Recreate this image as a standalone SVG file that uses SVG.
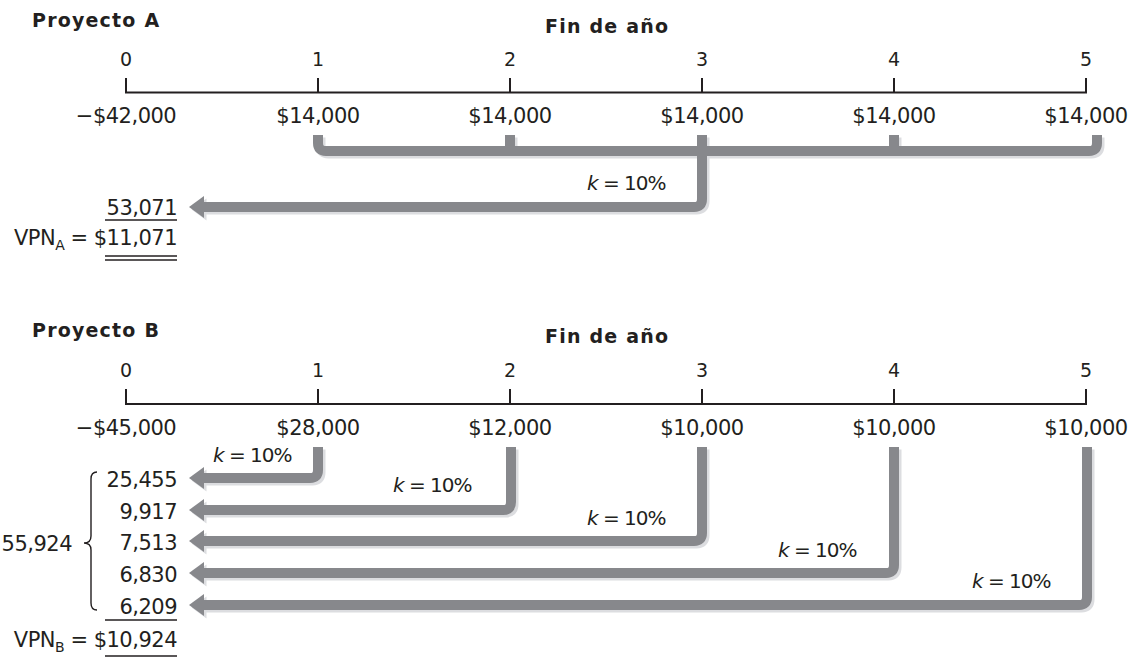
<svg xmlns="http://www.w3.org/2000/svg" width="1136" height="658" viewBox="0 0 1136 658">
<style>
text{font-family:"DejaVu Sans","Liberation Sans",sans-serif;fill:#231f20}
.title{font-weight:bold;font-size:19px;letter-spacing:1.2px}
.ax{font-size:19px;text-anchor:middle}
.cf{font-size:21px;text-anchor:middle;letter-spacing:-0.5px}
.val{font-size:21px;text-anchor:end;letter-spacing:-0.5px}
.k{font-size:20px;letter-spacing:-1px}
.axis{stroke:#231f20;stroke-width:2;fill:none}
.ul{stroke:#231f20;stroke-width:1.4;fill:none}
.brace{stroke:#231f20;stroke-width:1.4;fill:none}
.main{stroke:#87888c;fill:#87888c}
.shadow{stroke:#dcdde0;fill:#dcdde0}
</style>
<defs>
<polygon id="ah" points="0,0 15,-11 15,11" stroke="none"/>
<g id="connA" fill="none" stroke-width="10">
<path fill="none" d="M318,135 V143 Q318,151 326,151 H1089 Q1097,151 1097,143 V135"/>
<path fill="none" d="M510,135 V151"/>
<path fill="none" d="M894,135 V151"/>
<path fill="none" d="M702,135 V199 Q702,207 694,207 H202"/>
</g>
<g id="headA">
<use href="#ah" x="189" y="207"/>
</g>
<g id="connB" fill="none" stroke-width="10">
<path fill="none" d="M318,447 V470 Q318,478 310,478 H202"/>
<path fill="none" d="M511,447 V502 Q511,510 503,510 H202"/>
<path fill="none" d="M702,447 V533 Q702,541 694,541 H202"/>
<path fill="none" d="M894,447 V565 Q894,573 886,573 H202"/>
<path fill="none" d="M1087,447 V597 Q1087,605 1079,605 H202"/>
</g>
<g id="headB">
<use href="#ah" x="189" y="478"/>
<use href="#ah" x="189" y="510"/>
<use href="#ah" x="189" y="541"/>
<use href="#ah" x="189" y="573"/>
<use href="#ah" x="189" y="605"/>
</g>
</defs>

<g id="connectors">
<g class="shadow" transform="translate(2.5,2.5)">
<use href="#connA"/><use href="#headA"/>
<use href="#connB"/><use href="#headB"/>
</g>
<g class="main">
<use href="#connA"/><use href="#headA"/>
<use href="#connB"/><use href="#headB"/>
</g>
</g>

<!-- Project A -->
<g id="projA-title"><text class="title" x="32" y="27">Proyecto A</text></g>
<g id="projA-heading"><text class="title" x="545" y="33">Fin de año</text></g>
<g id="projA-axis">
<path class="axis" d="M126,78 V92.5 H1086 V78 M318,78 V92.5 M510,78 V92.5 M702,78 V92.5 M894,78 V92.5"/>
<text class="ax" x="126" y="66">0</text>
<text class="ax" x="318" y="66">1</text>
<text class="ax" x="510" y="66">2</text>
<text class="ax" x="702" y="66">3</text>
<text class="ax" x="894" y="66">4</text>
<text class="ax" x="1086" y="66">5</text>
</g>
<g id="projA-cf0"><text class="cf" x="126" y="123">−$42,000</text></g>
<g id="projA-cf1"><text class="cf" x="318" y="123">$14,000</text></g>
<g id="projA-cf2"><text class="cf" x="510" y="123">$14,000</text></g>
<g id="projA-cf3"><text class="cf" x="702" y="123">$14,000</text></g>
<g id="projA-cf4"><text class="cf" x="894" y="123">$14,000</text></g>
<g id="projA-cf5"><text class="cf" x="1086" y="123">$14,000</text></g>
<g id="projA-k"><text class="k" x="587" y="190"><tspan font-style="italic">k</tspan> = 10%</text></g>
<g id="projA-pv">
<text class="val" x="177" y="215">53,071</text>
<line class="ul" x1="105" y1="220" x2="177" y2="220"/>
</g>
<g id="projA-npv">
<text class="val" x="177" y="245">VPN<tspan font-size="14" dy="5">A</tspan><tspan dy="-5"> = $11,071</tspan></text>
<line class="ul" x1="105" y1="256" x2="177" y2="256"/>
<line class="ul" x1="105" y1="260" x2="177" y2="260"/>
</g>

<!-- Project B -->
<g id="projB-title"><text class="title" x="32" y="337">Proyecto B</text></g>
<g id="projB-heading"><text class="title" x="545" y="343">Fin de año</text></g>
<g id="projB-axis">
<path class="axis" d="M126,389 V404 H1086 V389 M318,389 V404 M510,389 V404 M702,389 V404 M894,389 V404"/>
<text class="ax" x="126" y="377">0</text>
<text class="ax" x="318" y="377">1</text>
<text class="ax" x="510" y="377">2</text>
<text class="ax" x="702" y="377">3</text>
<text class="ax" x="894" y="377">4</text>
<text class="ax" x="1086" y="377">5</text>
</g>
<g id="projB-cf0"><text class="cf" x="126" y="435">−$45,000</text></g>
<g id="projB-cf1"><text class="cf" x="318" y="435">$28,000</text></g>
<g id="projB-cf2"><text class="cf" x="510" y="435">$12,000</text></g>
<g id="projB-cf3"><text class="cf" x="702" y="435">$10,000</text></g>
<g id="projB-cf4"><text class="cf" x="894" y="435">$10,000</text></g>
<g id="projB-cf5"><text class="cf" x="1086" y="435">$10,000</text></g>
<g id="projB-k1"><text class="k" x="213" y="462"><tspan font-style="italic">k</tspan> = 10%</text></g>
<g id="projB-k2"><text class="k" x="393" y="492"><tspan font-style="italic">k</tspan> = 10%</text></g>
<g id="projB-k3"><text class="k" x="587" y="525"><tspan font-style="italic">k</tspan> = 10%</text></g>
<g id="projB-k4"><text class="k" x="778" y="557"><tspan font-style="italic">k</tspan> = 10%</text></g>
<g id="projB-k5"><text class="k" x="972" y="588"><tspan font-style="italic">k</tspan> = 10%</text></g>
<g id="projB-pv1"><text class="val" x="177" y="487">25,455</text></g>
<g id="projB-pv2"><text class="val" x="177" y="518.5">9,917</text></g>
<g id="projB-pv3"><text class="val" x="177" y="550">7,513</text></g>
<g id="projB-pv4"><text class="val" x="177" y="582">6,830</text></g>
<g id="projB-pv5">
<text class="val" x="177" y="614">6,209</text>
<line class="ul" x1="105" y1="620" x2="177" y2="620"/>
</g>
<g id="projB-sum">
<path class="brace" d="M97,472 Q91,472 91,479 V536 Q91,543 84,543 Q91,543 91,550 V603 Q91,610 97,610"/>
<text class="val" x="72" y="551">55,924</text>
</g>
<g id="projB-npv">
<text class="val" x="177" y="646.5">VPN<tspan font-size="14" dy="5">B</tspan><tspan dy="-5"> = $10,924</tspan></text>
<line class="ul" x1="105" y1="656" x2="177" y2="656"/>
</g>
</svg>
